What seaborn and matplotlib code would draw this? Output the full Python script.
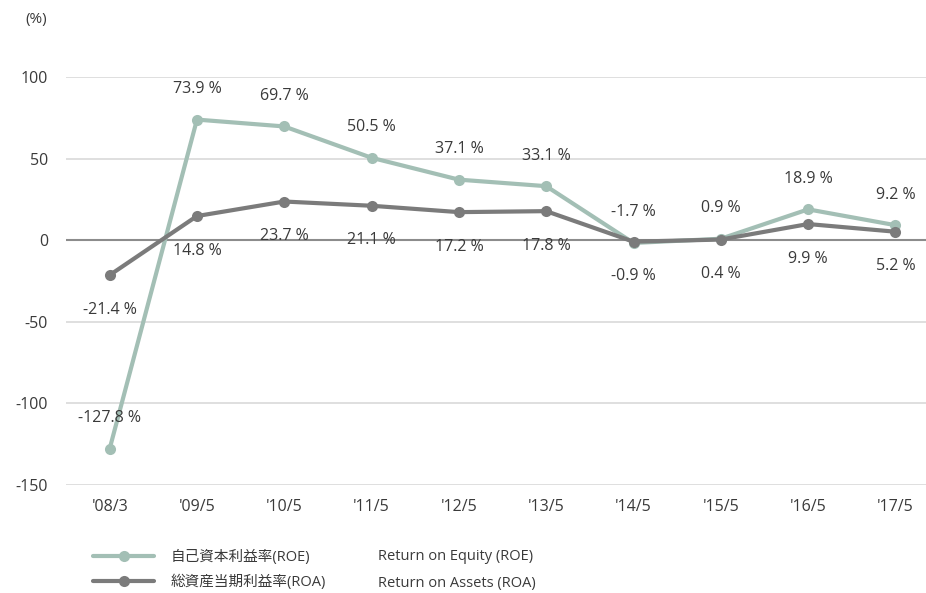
import numpy as np
import pandas as pd
import matplotlib
matplotlib.use("Agg")
import matplotlib.pyplot as plt
import seaborn as sns

# データ (値は画像から読み取り)
periods = ["'08/3", "'09/5", "'10/5", "'11/5", "'12/5", "'13/5", "'14/5", "'15/5", "'16/5", "'17/5"]
roe = [-127.8, 73.9, 69.7, 50.5, 37.1, 33.1, -1.7, 0.9, 18.9, 9.2]
roa = [-21.4, 14.8, 23.7, 21.1, 17.2, 17.8, -0.9, 0.4, 9.9, 5.2]
yticks = [-150, -100, -50, 0, 50, 100]

label_roe = "自己資本利益率(ROE)"
label_roa = "総資産当期利益率(ROA)"
label_roe_en = "Return on Equity (ROE)"
label_roa_en = "Return on Assets (ROA)"

sns.set_theme(style="white")
plt.rcParams['font.family'] = ['Open Sans', 'Noto Sans CJK JP', 'DejaVu Sans']
plt.rcParams['axes.unicode_minus'] = False
text_color = '#3a3a3a'
c_roe = '#a3bfb5'
c_roa = '#7b7b7b'

df = pd.DataFrame({
    'period': periods * 2,
    'value': roe + roa,
    'series': [label_roe] * len(periods) + [label_roa] * len(periods),
})

fig = plt.figure(figsize=(9.26, 5.93), dpi=100)
ax = fig.add_axes([66 / 926, 108 / 593, 1 - 66 / 926, 408 / 593])

for y in yticks:
    if y == 0:
        continue
    ax.axhline(y, color='#d9d9d9', linewidth=1.2, zorder=0)
ax.axhline(0, color='#8c8c8c', linewidth=1.5, zorder=1)

sns.lineplot(data=df, x='period', y='value', hue='series',
             palette={label_roe: c_roe, label_roa: c_roa},
             marker='o', markersize=8, markeredgewidth=0,
             linewidth=3, ax=ax, legend=False, zorder=3, sort=False)

# 値ラベル
for i, (a, b) in enumerate(zip(roe, roa)):
    ax.annotate(f"{a} %", (i, a), xytext=(0, 22), textcoords='offset points',
                ha='center', va='center', fontsize=11.5, color=text_color)
    ax.annotate(f"{b} %", (i, b), xytext=(0, -25), textcoords='offset points',
                ha='center', va='center', fontsize=11.5, color=text_color)

ax.set_xlim(-0.5, 9.35)
ax.set_ylim(-150, 100)
ax.set_yticks(yticks)
ax.set_xlabel('')
ax.set_ylabel('')
for s in ax.spines.values():
    s.set_visible(False)
ax.tick_params(axis='y', length=0, pad=13, labelsize=11.5, labelcolor=text_color)
ax.tick_params(axis='x', length=0, pad=10, labelsize=11.5, labelcolor=text_color)

fig.text(36 / 926, 1 - 20 / 593, "(%)", ha='center', va='center', fontsize=11, color=text_color)

# 凡例
handles = [plt.Line2D([], [], color=c_roe, lw=3, marker='o', markersize=8, markeredgewidth=0),
           plt.Line2D([], [], color=c_roa, lw=3, marker='o', markersize=8, markeredgewidth=0)]
fig.legend(handles, [label_roe, label_roa], loc='center left',
           bbox_to_anchor=(80 / 926, 1 - 570 / 593), frameon=False,
           handlelength=4.2, handletextpad=1.1, labelspacing=0.6,
           fontsize=10.5, labelcolor=text_color)
fig.text(378 / 926, 1 - 556 / 593, label_roe_en, ha='left', va='center', fontsize=10.5, color=text_color)
fig.text(378 / 926, 1 - 583 / 593, label_roa_en, ha='left', va='center', fontsize=10.5, color=text_color)

fig.savefig('out.png', dpi=100)
